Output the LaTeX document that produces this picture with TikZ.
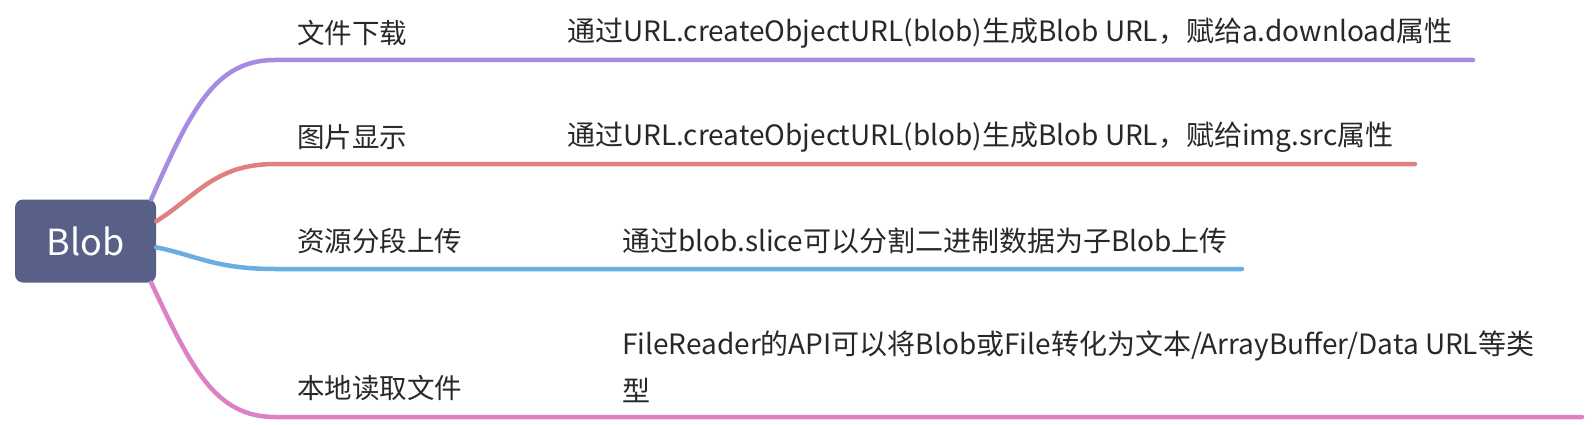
\documentclass[tikz,border=0pt]{standalone}
\usepackage{fontspec}
\setmainfont{Noto Sans CJK SC}
\definecolor{rootc}{RGB}{88,96,136}
\definecolor{purplec}{RGB}{167,139,224}
\definecolor{redc}{RGB}{224,128,128}
\definecolor{bluec}{RGB}{104,174,226}
\definecolor{pinkc}{RGB}{220,128,200}
\definecolor{textc}{RGB}{40,40,40}
\begin{document}
\begin{tikzpicture}[x=1pt,y=1pt]
\tikzset{
  branch/.style={line width=4.5pt, line cap=round},
  lab/.style={anchor=west, inner sep=0pt, font=\fontsize{27.5}{30}\selectfont, text=textc},
  desc/.style={anchor=west, inner sep=0pt, align=left, font=\fontsize{28}{47}\selectfont, text=textc},
}
\useasboundingbox (0,0) rectangle (1596,424);
% root
\node[fill=rootc, rounded corners=8pt, minimum width=141pt, minimum height=83pt, inner sep=0pt,
      text=white, font=\fontsize{36}{40}\selectfont] (root) at (85.5,183) {Blob};
% line anchor coordinates
\coordinate (p1s) at (275,364); \coordinate (p1e) at (1473,364);
\coordinate (p2s) at (275,260); \coordinate (p2e) at (1415,260);
\coordinate (p3s) at (275,155); \coordinate (p3e) at (1242,155);
\coordinate (p4s) at (275,7);   \coordinate (p4e) at (1582,7);
% labels
\node[lab] (l1) at (297,391) {文件下载};
\node[lab] (l2) at (297,287) {图片显示};
\node[lab] (l3) at (297,183) {资源分段上传};
\node[lab] (l4) at (297,36) {本地读取文件};
% descriptions
\node[desc] (d1) at (567,391) {通过URL.createObjectURL(blob)生成Blob URL，赋给a.download属性};
\node[desc] (d2) at (567,287) {通过URL.createObjectURL(blob)生成Blob URL，赋给img.src属性};
\node[desc] (d3) at (622,183) {通过blob.slice可以分割二进制数据为子Blob上传};
\node[desc] (d4) at (622,57) {FileReader的API可以将Blob或File转化为文本/ArrayBuffer/Data URL等类\\型};
% branches
\draw[branch, purplec] ([xshift=-5pt]root.north east) .. controls +(40,90) and (215,364) .. (p1s) -- (p1e);
\draw[branch, redc] ([yshift=-22pt]root.north east) .. controls +(40,25) and (215,260) .. (p2s) -- (p2e);
\draw[branch, bluec] ([yshift=-48pt]root.north east) .. controls +(40,-8) and (215,155) .. (p3s) -- (p3e);
\draw[branch, pinkc] ([xshift=-5pt]root.south east) .. controls +(40,-85) and (215,7) .. (p4s) -- (p4e);
\end{tikzpicture}
\end{document}
